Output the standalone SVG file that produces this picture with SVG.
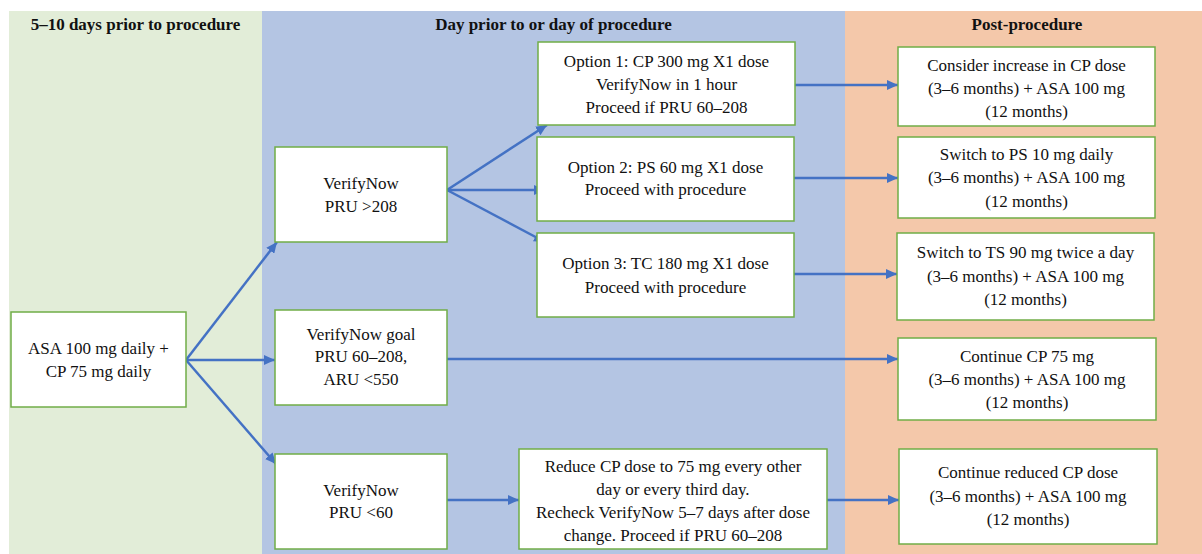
<svg xmlns="http://www.w3.org/2000/svg" width="1202" height="554" viewBox="0 0 1202 554">
<style>
.node rect{fill:#ffffff;stroke:#70AD47;stroke-width:1.5}
.node text,.hdr{font-family:"Liberation Serif","Times New Roman",serif;font-size:17px;fill:#111;text-anchor:middle}
.hdr{font-weight:bold}
.conn line{stroke:#4472C4;stroke-width:2.5;fill:none}
</style>
<defs>
<marker id="ah" markerUnits="userSpaceOnUse" markerWidth="12" markerHeight="10" refX="11" refY="5" orient="auto">
<path d="M0,0 L11,5 L0,10 Z" fill="#4472C4"/>
</marker>
</defs>
<rect width="1202" height="554" fill="#ffffff"/>
<g id="panels">
<rect x="9" y="11" width="253" height="543" fill="#E2EDD8"/>
<rect x="262" y="11" width="583" height="543" fill="#B4C5E3"/>
<rect x="845" y="11" width="357" height="543" fill="#F4C8AA"/>
<text class="hdr" x="135.5" y="30">5–10 days prior to procedure</text>
<text class="hdr" x="553.5" y="30">Day prior to or day of procedure</text>
<text class="hdr" x="1027" y="30">Post-procedure</text>
</g>
<g id="connectors" class="conn">
<line x1="186" y1="360" x2="277" y2="242" marker-end="url(#ah)"/>
<line x1="186" y1="360" x2="275" y2="360" marker-end="url(#ah)"/>
<line x1="186" y1="360" x2="276" y2="464" marker-end="url(#ah)"/>
<line x1="447" y1="190" x2="547" y2="125" marker-end="url(#ah)"/>
<line x1="447" y1="190" x2="545" y2="190" marker-end="url(#ah)"/>
<line x1="447" y1="190" x2="545" y2="242" marker-end="url(#ah)"/>
<line x1="795" y1="85" x2="898" y2="85" marker-end="url(#ah)"/>
<line x1="794" y1="178" x2="898" y2="178" marker-end="url(#ah)"/>
<line x1="794" y1="274" x2="897" y2="274" marker-end="url(#ah)"/>
<line x1="447" y1="359" x2="898" y2="359" marker-end="url(#ah)"/>
<line x1="447" y1="500" x2="519" y2="500" marker-end="url(#ah)"/>
<line x1="827" y1="500" x2="899" y2="500" marker-end="url(#ah)"/>
</g>
<g id="n-asa" class="node">
<rect x="11" y="312" width="175" height="95"/>
<text x="98.5" y="354">ASA 100 mg daily +</text>
<text x="98.5" y="377">CP 75 mg daily</text>
</g>
<g id="n-high" class="node">
<rect x="275" y="147" width="172" height="95"/>
<text x="361" y="189">VerifyNow</text>
<text x="361" y="212">PRU &gt;208</text>
</g>
<g id="n-goal" class="node">
<rect x="275" y="310" width="172" height="95"/>
<text x="361" y="340">VerifyNow goal</text>
<text x="361" y="362">PRU 60–208,</text>
<text x="361" y="385">ARU &lt;550</text>
</g>
<g id="n-low" class="node">
<rect x="275" y="454" width="172" height="95"/>
<text x="361" y="496">VerifyNow</text>
<text x="361" y="518">PRU &lt;60</text>
</g>
<g id="n-opt1" class="node">
<rect x="538" y="42" width="257" height="83"/>
<text x="666.5" y="67">Option 1: CP 300 mg X1 dose</text>
<text x="666.5" y="90">VerifyNow in 1 hour</text>
<text x="666.5" y="113">Proceed if PRU 60–208</text>
</g>
<g id="n-opt2" class="node">
<rect x="537" y="137" width="257" height="84"/>
<text x="665.5" y="173">Option 2: PS 60 mg X1 dose</text>
<text x="665.5" y="195">Proceed with procedure</text>
</g>
<g id="n-opt3" class="node">
<rect x="537" y="233" width="257" height="84"/>
<text x="665.5" y="269">Option 3: TC 180 mg X1 dose</text>
<text x="665.5" y="293">Proceed with procedure</text>
</g>
<g id="n-reduce" class="node">
<rect x="519" y="449" width="308" height="100"/>
<text x="673" y="472">Reduce CP dose to 75 mg every other</text>
<text x="673" y="495">day or every third day.</text>
<text x="673" y="518">Recheck VerifyNow 5–7 days after dose</text>
<text x="673" y="541">change. Proceed if PRU 60–208</text>
</g>
<g id="n-post1" class="node">
<rect x="898" y="47" width="257" height="79"/>
<text x="1026.5" y="71">Consider increase in CP dose</text>
<text x="1026.5" y="94">(3–6 months) + ASA 100 mg</text>
<text x="1026.5" y="117">(12 months)</text>
</g>
<g id="n-post2" class="node">
<rect x="898" y="137" width="257" height="81"/>
<text x="1026.5" y="160">Switch to PS 10 mg daily</text>
<text x="1026.5" y="183">(3–6 months) + ASA 100 mg</text>
<text x="1026.5" y="207">(12 months)</text>
</g>
<g id="n-post3" class="node">
<rect x="897" y="233" width="257" height="87"/>
<text x="1025.5" y="258">Switch to TS 90 mg twice a day</text>
<text x="1025.5" y="282">(3–6 months) + ASA 100 mg</text>
<text x="1025.5" y="305">(12 months)</text>
</g>
<g id="n-post4" class="node">
<rect x="898" y="338" width="258" height="82"/>
<text x="1027" y="362">Continue CP 75 mg</text>
<text x="1027" y="385">(3–6 months) + ASA 100 mg</text>
<text x="1027" y="408">(12 months)</text>
</g>
<g id="n-post5" class="node">
<rect x="899" y="449" width="258" height="95"/>
<text x="1028" y="478">Continue reduced CP dose</text>
<text x="1028" y="502">(3–6 months) + ASA 100 mg</text>
<text x="1028" y="525">(12 months)</text>
</g>
</svg>
